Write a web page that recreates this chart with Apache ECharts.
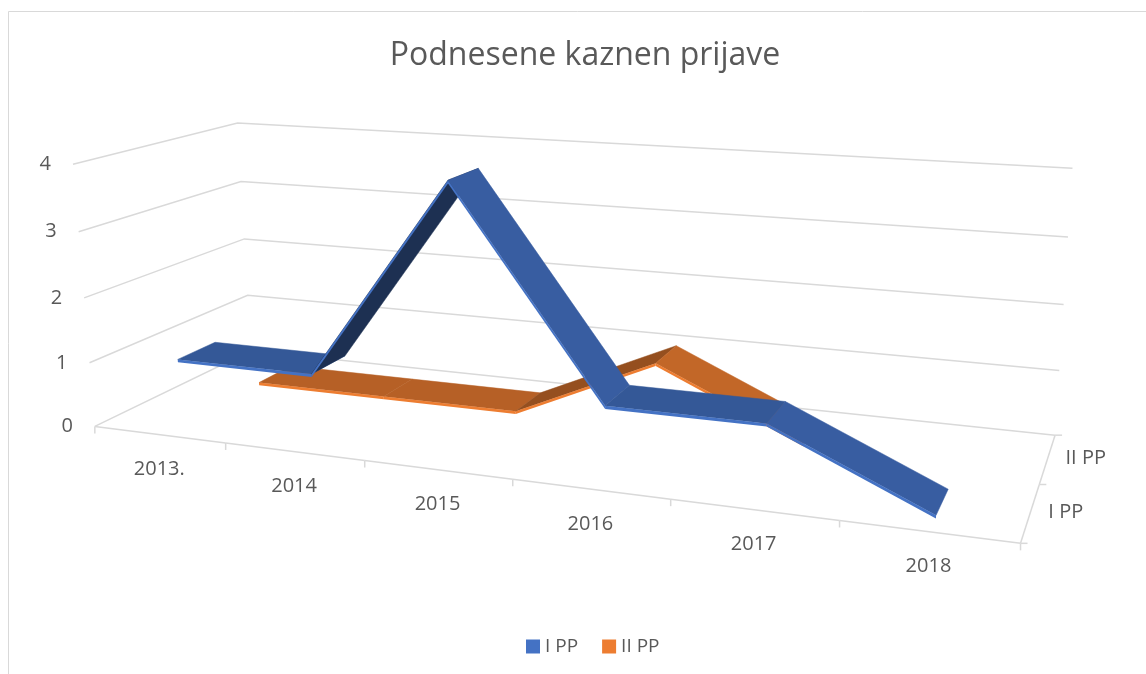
<!DOCTYPE html>
<html>
<head>
<meta charset="utf-8">
<title>Podnesene kaznen prijave</title>
<script src="https://cdn.jsdelivr.net/npm/echarts@6/dist/echarts.min.js"></script>
<style>
  html, body { margin: 0; padding: 0; background: #fff; }
  #chart { width: 1146px; height: 674px; }
</style>
</head>
<body>
<div id="chart"></div>
<script>
const categories = ['2013.', '2014', '2015', '2016', '2017', '2018'];
const seriesNames = ['I PP', 'II PP'];
const iPP = [1, 1, 4, 1, 1, 0];
const iiPP = [0, 0, 0, 1, 0, null];
const valueTicks = [0, 1, 2, 3, 4];

const colors = ['#4472C4', '#ED7D31'];
const GRID_COLOR = '#D9D9D9';
const TEXT_COLOR = '#595959';
const FONT = '"Open Sans", sans-serif';

const RIBBON_HALF = 0.23;  // half width of a line ribbon, in depth rows
const THICK = 0.045;       // ribbon thickness, in value units

// where a few corners of the 3d box land on screen, to fit the camera
// [category, value, depth, screenX, screenY]
const cameraAnchors = [
  [0, 0, 0, 97, 427], [6, 0, 0, 1021, 543], [0, 0, 2, 250, 350], [6, 0, 2, 1056, 434],
  [0, 1, 0, 88, 362], [0, 2, 0, 83, 298], [0, 3, 0, 79, 232], [0, 4, 0, 73, 163],
  [0, 1, 2, 247, 296], [0, 2, 2, 245, 239], [0, 3, 2, 241, 182], [0, 4, 2, 238, 123],
  [6, 1, 2, 1058, 370], [6, 2, 2, 1063, 304], [6, 3, 2, 1068, 237], [6, 4, 2, 1073, 169],
  [1, 0, 0, 226, 443], [2, 0, 0, 365, 461], [3, 0, 0, 514, 480], [4, 0, 0, 670, 499],
  [5, 0, 0, 837, 520], [6, 0, 1, 1041, 486]
];

// plain DLT fit (least squares), pixels normalised for stability
function fitCamera(anchors) {
  const cx = 573, cy = 337, s = 500;
  const n = 11;
  const M = [];
  for (let i = 0; i < n; i++) M.push(new Array(n + 1).fill(0));
  function add(row, b) {
    for (let i = 0; i < n; i++) {
      for (let j = 0; j < n; j++) M[i][j] += row[i] * row[j];
      M[i][n] += row[i] * b;
    }
  }
  anchors.forEach(function (a) {
    const X = a[0], Y = a[1], Z = a[2];
    const u = (a[3] - cx) / s, v = (a[4] - cy) / s;
    add([X, Y, Z, 1, 0, 0, 0, 0, -u * X, -u * Y, -u * Z], u);
    add([0, 0, 0, 0, X, Y, Z, 1, -v * X, -v * Y, -v * Z], v);
  });
  for (let c = 0; c < n; c++) {
    let piv = c;
    for (let r = c + 1; r < n; r++) if (Math.abs(M[r][c]) > Math.abs(M[piv][c])) piv = r;
    const tmp = M[c]; M[c] = M[piv]; M[piv] = tmp;
    for (let r = 0; r < n; r++) {
      if (r === c) continue;
      const f = M[r][c] / M[c][c];
      for (let k = c; k <= n; k++) M[r][k] -= f * M[c][k];
    }
  }
  const p = M.map(function (row, i) { return row[n] / row[i]; });
  return function (X, Y, Z) {
    const w = p[8] * X + p[9] * Y + p[10] * Z + 1;
    return [
      cx + s * (p[0] * X + p[1] * Y + p[2] * Z + p[3]) / w,
      cy + s * (p[4] * X + p[5] * Y + p[6] * Z + p[7]) / w
    ];
  };
}
const project = fitCamera(cameraAnchors);

// hidden flat grid -> box coordinates (category units, value units)
function toBox(api, pt) {
  const band = api.size([1, 0])[0];
  const unit = api.size([0, 1])[1];
  const base = api.coord([0, 0])[1];
  return [pt[0] / band, (base - pt[1]) / unit];
}

function shade(hex, k) {
  const c = parseInt(hex.slice(1), 16);
  const r = Math.round(((c >> 16) & 255) * k);
  const g = Math.round(((c >> 8) & 255) * k);
  const b = Math.round((c & 255) * k);
  return 'rgb(' + r + ',' + g + ',' + b + ')';
}

const depthCount = seriesNames.length;
const lastCat = categories.length - 1;

function renderValueGrid(params, api) {
  const v = toBox(api, api.coord([0, api.value(1)]))[1];
  const right = toBox(api, api.coord([lastCat, 0]))[0] + 0.5;
  const a = project(0, v, 0), b = project(0, v, depthCount), c = project(right, v, depthCount);
  return {
    type: 'group',
    children: [
      { type: 'polyline', shape: { points: [a, b, c] },
        style: { stroke: GRID_COLOR, lineWidth: 1.5, fill: null } },
      { type: 'text', x: a[0] - 22, y: a[1],
        style: { text: String(api.value(1)), fill: TEXT_COLOR, fontSize: 20, fontFamily: FONT,
                 align: 'right', verticalAlign: 'middle' } }
    ]
  };
}

function renderCategoryAxis(params, api) {
  const i = params.dataIndex;
  const mid = toBox(api, api.coord([api.value(0), 0]))[0];
  const a = project(mid - 0.5, 0, 0), b = project(mid + 0.5, 0, 0), m = project(mid, 0, 0);
  const children = [
    { type: 'line', shape: { x1: a[0], y1: a[1], x2: b[0], y2: b[1] },
      style: { stroke: GRID_COLOR, lineWidth: 1.5 } },
    { type: 'line', shape: { x1: a[0], y1: a[1], x2: a[0], y2: a[1] + 7 },
      style: { stroke: GRID_COLOR, lineWidth: 1.5 } },
    { type: 'text', x: m[0], y: m[1] + 35,
      style: { text: categories[i], fill: TEXT_COLOR, fontSize: 20, fontFamily: FONT,
               align: 'center', verticalAlign: 'middle' } }
  ];
  if (i === lastCat) {
    children.push({ type: 'line', shape: { x1: b[0], y1: b[1], x2: b[0], y2: b[1] + 7 },
      style: { stroke: GRID_COLOR, lineWidth: 1.5 } });
  }
  return { type: 'group', children: children };
}

function renderDepthAxis(params, api) {
  const r = params.dataIndex;
  const right = toBox(api, api.coord([lastCat, 0]))[0] + 0.5;
  const a = project(right, 0, r), b = project(right, 0, r + 1), m = project(right, 0, r + 0.5);
  const children = [
    { type: 'line', shape: { x1: a[0], y1: a[1], x2: b[0], y2: b[1] },
      style: { stroke: GRID_COLOR, lineWidth: 1.5 } },
    { type: 'line', shape: { x1: a[0], y1: a[1], x2: a[0] + 7, y2: a[1] },
      style: { stroke: GRID_COLOR, lineWidth: 1.5 } },
    { type: 'text', x: m[0] + 18, y: m[1],
      style: { text: seriesNames[r], fill: TEXT_COLOR, fontSize: 20, fontFamily: FONT,
               align: 'left', verticalAlign: 'middle' } }
  ];
  if (r === depthCount - 1) {
    children.push({ type: 'line', shape: { x1: b[0], y1: b[1], x2: b[0] + 7, y2: b[1] },
      style: { stroke: GRID_COLOR, lineWidth: 1.5 } });
  }
  return { type: 'group', children: children };
}

function ribbonRenderer(row) {
  return function (params, api) {
    const i = params.dataIndexInside;
    if (i + 1 >= params.dataInsideLength) return;
    const v0 = api.value(1, i), v1 = api.value(1, i + 1);
    if (isNaN(v0) || isNaN(v1)) return;
    const a = toBox(api, api.coord([api.value(0, i), v0]));
    const b = toBox(api, api.coord([api.value(0, i + 1), v1]));
    const z0 = row + 0.5 - RIBBON_HALF, z1 = row + 0.5 + RIBBON_HALF;
    const face = [project(a[0], a[1], z0), project(b[0], b[1], z0),
                  project(b[0], b[1], z1), project(a[0], a[1], z1)];
    const edge = [project(a[0], a[1], z0), project(b[0], b[1], z0),
                  project(b[0], b[1] - THICK, z0), project(a[0], a[1] - THICK, z0)];
    const slope = b[1] - a[1];
    let k = 0.77;
    if (slope > 0) k = Math.max(0.35, 0.735 - 0.105 * slope);
    else if (slope < 0) k = 0.82;
    const base = api.visual('color');
    return {
      type: 'group',
      children: [
        { type: 'polygon', shape: { points: face },
          style: { fill: shade(base, k), stroke: shade(base, k), lineWidth: 0.5 } },
        { type: 'polygon', shape: { points: edge }, style: { fill: base } }
      ]
    };
  };
}

const chart = echarts.init(document.getElementById('chart'));

chart.setOption({
  backgroundColor: '#fff',
  animation: false,
  title: {
    text: 'Podnesene kaznen prijave',
    left: 580,
    textAlign: 'center',
    top: 35,
    textStyle: { fontSize: 32, fontWeight: 'normal', color: TEXT_COLOR, fontFamily: FONT }
  },
  legend: {
    data: seriesNames,
    top: 632,
    left: 521,
    icon: 'rect',
    itemWidth: 14,
    itemHeight: 14,
    itemGap: 24,
    textStyle: { fontSize: 19, color: TEXT_COLOR, fontFamily: FONT }
  },
  graphic: [{
    type: 'rect',
    shape: { x: 8.5, y: 11.5, width: 1300, height: 800 },
    style: { fill: 'none', stroke: GRID_COLOR, lineWidth: 1 },
    silent: true
  }],
  grid: { left: 0, top: 0, width: 600, height: 400, show: false },
  xAxis: { type: 'category', data: categories, show: false },
  yAxis: { type: 'value', min: 0, max: 4, interval: 1, show: false },
  series: [
    { name: 'valueGrid', type: 'custom', silent: true,
      data: valueTicks.map(function (v) { return [0, v]; }),
      renderItem: renderValueGrid },
    { name: 'categoryAxis', type: 'custom', silent: true,
      data: categories.map(function (c, i) { return [i, 0]; }),
      renderItem: renderCategoryAxis },
    { name: 'depthAxis', type: 'custom', silent: true,
      data: seriesNames.map(function () { return [lastCat, 0]; }),
      renderItem: renderDepthAxis },
    { name: seriesNames[1], type: 'custom', itemStyle: { color: colors[1] },
      data: iiPP.map(function (v, i) { return [i, v]; }),
      renderItem: ribbonRenderer(1) },
    { name: seriesNames[0], type: 'custom', itemStyle: { color: colors[0] },
      data: iPP.map(function (v, i) { return [i, v]; }),
      renderItem: ribbonRenderer(0) }
  ]
});
</script>
</body>
</html>
